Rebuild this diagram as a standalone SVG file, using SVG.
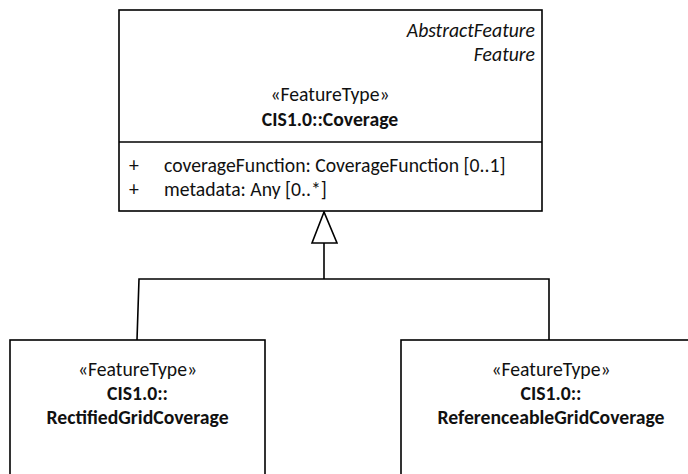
<svg xmlns="http://www.w3.org/2000/svg" width="688" height="474" viewBox="0 0 688 474">
  <style>
    .box { fill: #ffffff; stroke: #000000; stroke-width: 1.6; }
    .line { fill: none; stroke: #000000; stroke-width: 1.6; }
    .t { font-family: "Carlito", "Liberation Sans", Arial, sans-serif; font-size: 19.7px; fill: #111111; }
    .c { text-anchor: middle; }
    .r { text-anchor: end; }
    .b { font-weight: bold; }
    .i { font-style: italic; }
  </style>
  <rect width="688" height="474" fill="#ffffff"/>
  <g id="connectors">
    <polyline class="line" points="137,340 139,279 549,279 549,340"/>
    <line class="line" x1="324" y1="279" x2="324" y2="243"/>
    <polygon class="box" points="324,212 312,243 337,243"/>
  </g>
  <g id="coverage">
    <rect class="box" x="119" y="10" width="423" height="201"/>
    <line class="line" x1="119" y1="142" x2="542" y2="142"/>
    <text class="t r i" x="535" y="37">AbstractFeature</text>
    <text class="t r i" x="535" y="61">Feature</text>
    <text class="t c" x="330" y="101">«FeatureType»</text>
    <text class="t c b" x="330" y="126">CIS1.0::Coverage</text>
    <text class="t" x="129" y="172">+</text>
    <text class="t" x="164" y="172">coverageFunction: CoverageFunction [0..1]</text>
    <text class="t" x="129" y="196">+</text>
    <text class="t" x="164" y="196">metadata: Any [0..*]</text>
  </g>
  <g id="rectified">
    <rect class="box" x="10" y="340" width="255" height="160"/>
    <text class="t c" x="137.5" y="376">«FeatureType»</text>
    <text class="t c b" x="137.5" y="400">CIS1.0::</text>
    <text class="t c b" x="137.5" y="424">RectifiedGridCoverage</text>
  </g>
  <g id="referenceable">
    <rect class="box" x="401" y="340" width="300" height="160"/>
    <text class="t c" x="551" y="376">«FeatureType»</text>
    <text class="t c b" x="551" y="400">CIS1.0::</text>
    <text class="t c b" x="551" y="424">ReferenceableGridCoverage</text>
  </g>
</svg>
